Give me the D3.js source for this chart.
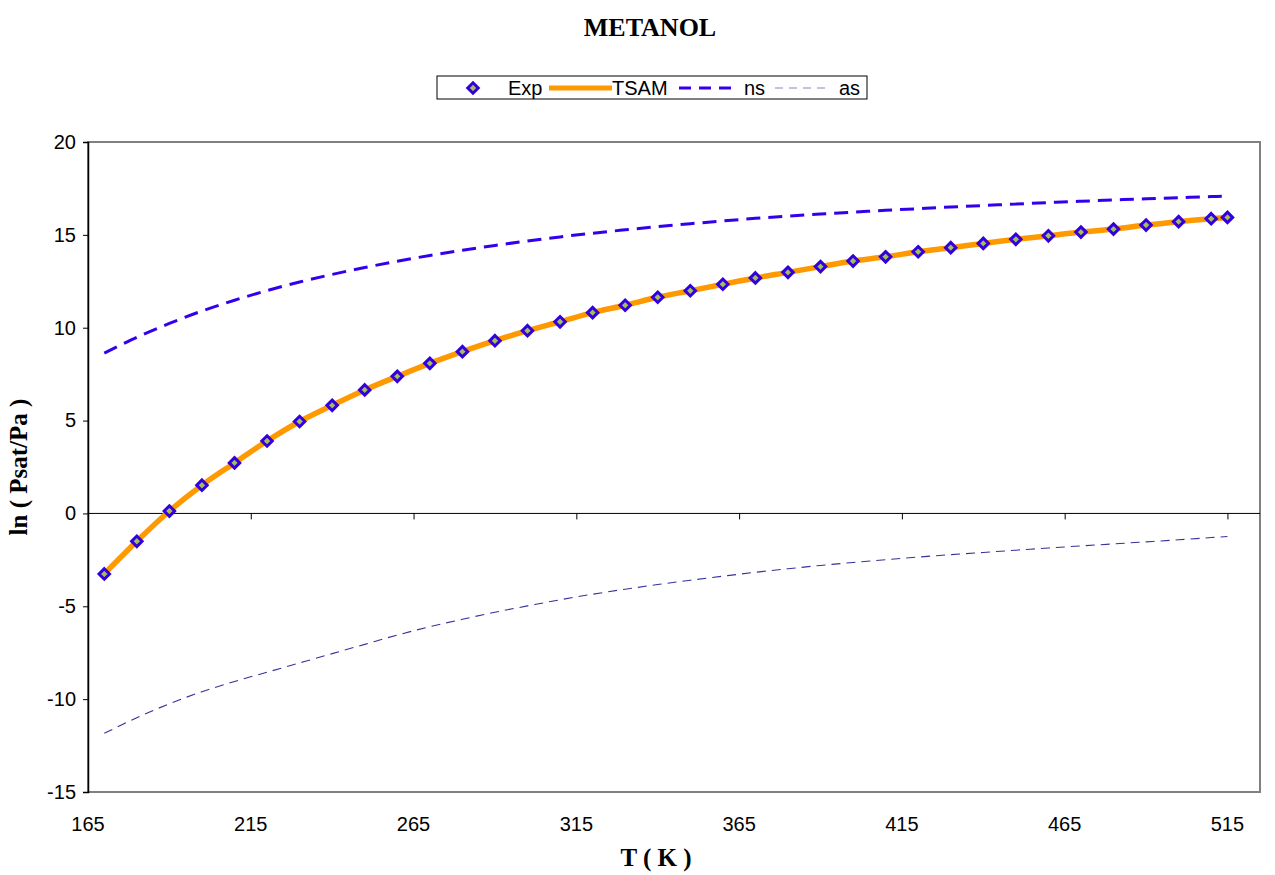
<!DOCTYPE html>
<html>
<head>
<meta charset="utf-8">
<script src="https://cdn.jsdelivr.net/npm/d3@7"></script>
<style>
  body { margin: 0; background: #fff; }
  svg { display: block; }
</style>
</head>
<body>
<svg id="chart" width="1275" height="875"></svg>
<script>
// Temperatures (K) shared by every series
const temps = [170,180,190,200,210,220,230,240,250,260,270,280,290,300,310,320,330,340,350,360,
               370,380,390,400,410,420,430,440,450,460,470,480,490,500,510,515];

// ln(Psat/Pa) – experimental points (also followed by the TSAM curve)
const expVals = [-3.26,-1.50,0.13,1.52,2.72,3.90,4.95,5.82,6.65,7.38,8.08,8.71,9.30,9.84,10.32,10.81,11.21,11.64,11.99,12.34,
                 12.68,12.98,13.29,13.59,13.82,14.09,14.31,14.54,14.76,14.95,15.15,15.31,15.53,15.71,15.87,15.94];
const tsamVals = expVals.slice();

// ns and as contributions
const nsVals = [8.63,9.48,10.23,10.90,11.48,12.00,12.46,12.87,13.24,13.58,13.89,14.17,14.43,14.67,14.89,15.09,15.27,15.44,15.60,15.75,
                15.89,16.01,16.12,16.22,16.32,16.41,16.50,16.58,16.66,16.74,16.81,16.88,16.94,17.00,17.06,17.09];
const asVals = [-11.84,-11.00,-10.25,-9.60,-9.05,-8.55,-8.05,-7.55,-7.05,-6.55,-6.10,-5.70,-5.32,-4.98,-4.65,-4.35,-4.08,-3.83,-3.60,-3.38,
                -3.17,-2.98,-2.80,-2.64,-2.49,-2.35,-2.22,-2.10,-1.98,-1.86,-1.75,-1.64,-1.53,-1.42,-1.30,-1.24];

const xTicks = [165,215,265,315,365,415,465,515];
const yTicks = [-15,-10,-5,0,5,10,15,20];

const svg = d3.select("#chart");
const m = { left: 88, right: 1260, top: 142, bottom: 792 };
const sans = "Arial, 'Liberation Sans', sans-serif";
const serif = "'Times New Roman', 'Liberation Serif', serif";

const x = d3.scaleLinear().domain([165, 525]).range([m.left, m.right]);
const y = d3.scaleLinear().domain([-15, 20]).range([m.bottom, m.top]);

// plot frame
svg.append("rect")
  .attr("x", m.left).attr("y", m.top)
  .attr("width", m.right - m.left).attr("height", m.bottom - m.top)
  .attr("fill", "none").attr("stroke", "#808080").attr("stroke-width", 2);

// y axis
const yAxis = d3.axisLeft(y).tickValues(yTicks).tickSize(5).tickPadding(7).tickFormat(d => String(d));
const gy = svg.append("g").attr("transform", `translate(${m.left},0)`).call(yAxis);
gy.select(".domain").attr("stroke", "#000").attr("stroke-width", 1.5);
gy.selectAll(".tick line").attr("stroke", "#000");
gy.selectAll(".tick text")
  .attr("font-family", sans).attr("font-size", 20).attr("fill", "#000");

// x axis line through y = 0, ticks downward
const xAxis = d3.axisBottom(x).tickValues(xTicks).tickSize(6).tickFormat("");
const gx = svg.append("g").attr("transform", `translate(0,${y(0)})`).call(xAxis);
gx.select(".domain").attr("stroke", "#000").attr("stroke-width", 1).attr("d", `M${m.left},0H${m.right}`);
gx.selectAll(".tick line").attr("stroke", "#000");

// x tick labels sit below the plot area
svg.append("g").selectAll("text").data(xTicks).join("text")
  .attr("x", d => x(d)).attr("y", m.bottom + 39)
  .attr("text-anchor", "middle")
  .attr("font-family", sans).attr("font-size", 20)
  .text(d => d);

const smooth = vals => d3.line().curve(d3.curveCatmullRom.alpha(0.5)).x((d, i) => x(temps[i])).y(d => y(d))(vals);

// as curve
svg.append("path").attr("d", smooth(asVals))
  .attr("fill", "none").attr("stroke", "#333399").attr("stroke-width", 1.1)
  .attr("stroke-dasharray", "9,6");

// ns curve
svg.append("path").attr("d", smooth(nsVals))
  .attr("fill", "none").attr("stroke", "#3300EE").attr("stroke-width", 3)
  .attr("stroke-dasharray", "14,8");

// TSAM curve
svg.append("path").attr("d", smooth(tsamVals))
  .attr("fill", "none").attr("stroke", "#FF9900").attr("stroke-width", 5.5)
  .attr("stroke-linejoin", "round");

// Exp markers
const diamond = d3.symbol().type(d3.symbolDiamond2).size(70);
svg.append("g").selectAll("path").data(expVals).join("path")
  .attr("transform", (d, i) => `translate(${x(temps[i])},${y(d)})`)
  .attr("d", diamond)
  .attr("fill", "#A3BF5A").attr("stroke", "#3300DD").attr("stroke-width", 3);

// title
svg.append("text").attr("x", 650).attr("y", 36).attr("text-anchor", "middle")
  .attr("font-family", serif).attr("font-weight", "bold").attr("font-size", 26)
  .text("METANOL");

// axis titles
svg.append("text").attr("x", 656).attr("y", 866).attr("text-anchor", "middle")
  .attr("font-family", serif).attr("font-weight", "bold").attr("font-size", 25)
  .text("T ( K )");
svg.append("text").attr("transform", "translate(27,467) rotate(-90)").attr("text-anchor", "middle")
  .attr("font-family", serif).attr("font-weight", "bold").attr("font-size", 25)
  .text("ln ( Psat/Pa )");

// legend
const lg = svg.append("g");
lg.append("rect").attr("x", 437).attr("y", 76).attr("width", 430).attr("height", 23)
  .attr("fill", "#fff").attr("stroke", "#000").attr("stroke-width", 1);
lg.append("path").attr("transform", "translate(473,88)").attr("d", diamond)
  .attr("fill", "#A3BF5A").attr("stroke", "#3300DD").attr("stroke-width", 3);
lg.append("text").attr("x", 508).attr("y", 95).attr("font-family", sans).attr("font-size", 20).text("Exp");
lg.append("line").attr("x1", 549).attr("x2", 612).attr("y1", 88).attr("y2", 88)
  .attr("stroke", "#FF9900").attr("stroke-width", 5);
lg.append("text").attr("x", 612).attr("y", 95).attr("font-family", sans).attr("font-size", 20).text("TSAM");
lg.append("line").attr("x1", 679).attr("x2", 738).attr("y1", 88).attr("y2", 88)
  .attr("stroke", "#3300EE").attr("stroke-width", 3).attr("stroke-dasharray", "12,8");
lg.append("text").attr("x", 744).attr("y", 95).attr("font-family", sans).attr("font-size", 20).text("ns");
lg.append("line").attr("x1", 775).attr("x2", 830).attr("y1", 88).attr("y2", 88)
  .attr("stroke", "#8888BB").attr("stroke-width", 1.2).attr("stroke-dasharray", "8,6");
lg.append("text").attr("x", 839).attr("y", 95).attr("font-family", sans).attr("font-size", 20).text("as");
</script>
</body>
</html>
